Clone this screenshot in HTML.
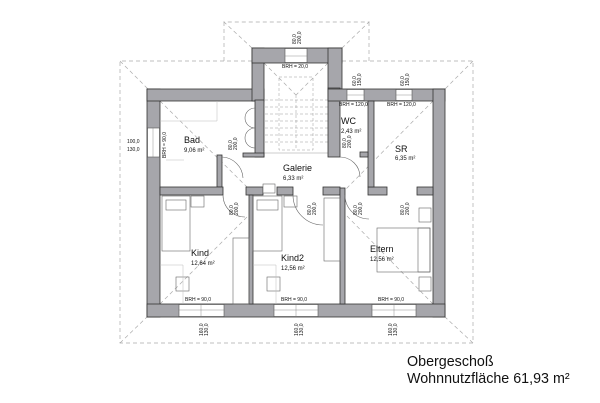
<!DOCTYPE html>
<html><head><meta charset="utf-8"><style>
html,body{margin:0;padding:0;background:#fff;}
svg{display:block;font-family:"Liberation Sans",sans-serif;}
</style></head><body>
<svg width="600" height="403" viewBox="0 0 600 403" xmlns="http://www.w3.org/2000/svg">
<g stroke="#aaa" stroke-width="0.7" stroke-dasharray="4,3" fill="none">
<polyline points="252,61 120,61 120,343 473,343 473,61 342,61"/>
<polyline points="252,48 224,22 369,22 342,48"/>
<line x1="224" y1="22" x2="224" y2="61"/><line x1="369" y1="22" x2="369" y2="61"/>
<line x1="120" y1="61" x2="148" y2="89"/><line x1="473" y1="61" x2="445" y2="89"/>
<line x1="120" y1="343" x2="147" y2="317"/><line x1="473" y1="343" x2="445" y2="317"/>
<line x1="160" y1="101" x2="250" y2="190"/><line x1="433" y1="101" x2="345" y2="190"/>
<line x1="160" y1="304" x2="250" y2="214"/><line x1="433" y1="304" x2="345" y2="214"/>
<line x1="264" y1="63" x2="296" y2="95"/><line x1="328" y1="63" x2="296" y2="95"/>
</g>
<g stroke="#999" stroke-width="0.5" fill="none">
<rect x="279" y="77" width="34" height="73" stroke-dasharray="3,2"/>
<line x1="296" y1="95" x2="296" y2="150" stroke-dasharray="3,2"/>
<g stroke-dasharray="3,2">
<line x1="265" y1="100" x2="328" y2="100"/><line x1="265" y1="107" x2="328" y2="107"/>
<line x1="265" y1="114" x2="328" y2="114"/><line x1="265" y1="121" x2="328" y2="121"/>
<line x1="265" y1="128" x2="328" y2="128"/><line x1="265" y1="135" x2="328" y2="135"/>
<line x1="265" y1="142" x2="328" y2="142"/>
</g>
<line x1="264" y1="153" x2="328" y2="153"/>
</g>
<g fill="#a6a6ab" stroke="#333" stroke-width="0.8">
<rect x="147" y="89" width="13" height="228"/>
<rect x="147" y="89" width="117" height="12"/>
<rect x="252" y="48" width="12" height="53"/>
<rect x="255" y="100" width="9" height="57"/>
<rect x="243" y="153" width="21" height="4"/>
<rect x="252" y="48" width="90" height="15"/>
<rect x="328" y="48" width="14" height="41"/>
<rect x="328" y="88" width="12" height="69"/>
<rect x="328" y="89" width="117" height="12"/>
<rect x="433" y="89" width="12" height="228"/>
<rect x="147" y="304" width="298" height="13"/>
<rect x="217" y="155" width="5" height="32"/>
<rect x="160" y="187" width="63" height="8"/>
<rect x="246" y="187" width="17" height="8"/>
<rect x="277" y="187" width="16" height="8"/>
<rect x="323" y="187" width="17" height="8"/>
<rect x="368" y="187" width="19" height="8"/>
<rect x="417" y="187" width="16" height="8"/>
<rect x="249" y="195" width="4" height="109"/>
<rect x="340" y="188" width="5" height="116"/>
<rect x="368" y="101" width="6" height="86"/>
<rect x="360" y="152" width="8" height="5"/>
</g>
<g fill="#fff" stroke="#555" stroke-width="0.6">
<rect x="147.5" y="128" width="12" height="29"/>
<rect x="285" y="48.5" width="22" height="14"/>
<rect x="347" y="89.5" width="17" height="11"/>
<rect x="396" y="89.5" width="16" height="11"/>
<rect x="179" y="304.5" width="45" height="12"/>
<rect x="274" y="304.5" width="44" height="12"/>
<rect x="372" y="304.5" width="44" height="12"/>
</g>
<g stroke="#777" stroke-width="0.4">
<line x1="153" y1="128" x2="153" y2="157"/><line x1="285" y1="56" x2="307" y2="56"/>
<line x1="347" y1="95" x2="364" y2="95"/><line x1="396" y1="95" x2="412" y2="95"/>
<line x1="179" y1="310" x2="224" y2="310"/><line x1="274" y1="310" x2="318" y2="310"/>
<line x1="372" y1="310" x2="416" y2="310"/>
<line x1="201" y1="304" x2="201" y2="317"/><line x1="296" y1="304" x2="296" y2="317"/><line x1="394" y1="304" x2="394" y2="317"/>
</g>
<g fill="none" stroke="#666" stroke-width="0.6">
<rect x="162" y="196" width="28" height="55"/><rect x="166" y="200" width="20" height="10"/>
<rect x="253" y="196" width="29" height="55"/><rect x="257" y="200" width="21" height="10"/>
<rect x="377" y="228" width="53" height="44"/><rect x="418" y="228" width="12" height="44"/>
<rect x="419" y="208" width="12" height="14"/><rect x="419" y="277" width="12" height="14"/>
<rect x="191" y="196" width="13" height="11"/><rect x="284" y="196" width="13" height="11"/>
<rect x="233" y="238" width="16" height="66"/>
<rect x="324" y="198" width="16" height="63"/>
<rect x="176" y="277" width="13" height="14"/><rect x="267" y="277" width="13" height="14"/>
<path d="M255,108 a10,10 0 0 0 0,20 M255,128 a10,10 0 0 0 0,20"/>
<rect x="263" y="184" width="12" height="9" fill="#fff"/>
<path d="M222,157 a22,22 0 0 1 21,21 M340,157 a20,20 0 0 1 20,20 M223,195 a22,22 0 0 0 22,22 M293,195 a30,30 0 0 0 30,30 M345,195 a24,24 0 0 0 24,24"/>
</g>
<g fill="none" stroke="#bbb" stroke-width="0.5">
<line x1="217" y1="101" x2="217" y2="121"/><line x1="160" y1="121" x2="217" y2="121"/>
<line x1="160" y1="265" x2="183" y2="265"/><line x1="183" y1="265" x2="183" y2="304"/>
<line x1="253" y1="265" x2="276" y2="265"/><line x1="276" y1="265" x2="276" y2="304"/>
<line x1="166" y1="160" x2="184" y2="160"/>
</g>
<g fill="#111">
<text x="184" y="143" font-size="9">Bad</text><text x="184" y="152" font-size="6">9,06 m²</text>
<text x="283" y="171" font-size="9">Galerie</text><text x="283" y="180" font-size="6">6,33 m²</text>
<text x="341" y="124" font-size="9">WC</text><text x="341" y="133" font-size="6">2,43 m²</text>
<text x="395" y="152" font-size="9">SR</text><text x="395" y="160" font-size="6">6,35 m²</text>
<text x="191" y="256" font-size="9">Kind</text><text x="191" y="265" font-size="6">12,64 m²</text>
<text x="281" y="261" font-size="9">Kind2</text><text x="281" y="270" font-size="6">12,56 m²</text>
<text x="370" y="252" font-size="9">Eltern</text><text x="370" y="261" font-size="6">12,56 m²</text>
<g font-size="5">
<text x="185" y="301">BRH = 90,0</text><text x="281" y="301">BRH = 90,0</text><text x="378" y="301">BRH = 90,0</text>
<text x="282" y="68">BRH = 20,0</text><text x="339" y="106">BRH = 120,0</text><text x="387" y="106">BRH = 120,0</text>
<text x="127" y="143">100,0</text><text x="127" y="151">130,0</text>
<text transform="translate(166,158) rotate(-90)">BRH = 90,0</text>
<text transform="translate(203,336) rotate(-90)">160,0</text><text transform="translate(208,336) rotate(-90)">130,0</text>
<text transform="translate(298,336) rotate(-90)">160,0</text><text transform="translate(303,336) rotate(-90)">130,0</text>
<text transform="translate(392,336) rotate(-90)">160,0</text><text transform="translate(397,336) rotate(-90)">130,0</text>
<text transform="translate(296,44) rotate(-90)">80,0</text><text transform="translate(301,44) rotate(-90)">200,0</text>
<text transform="translate(356,86) rotate(-90)">60,0</text><text transform="translate(361,86) rotate(-90)">150,0</text>
<text transform="translate(404,86) rotate(-90)">60,0</text><text transform="translate(409,86) rotate(-90)">150,0</text>
<text transform="translate(232,150) rotate(-90)">80,0</text><text transform="translate(237,150) rotate(-90)">200,0</text>
<text transform="translate(346,148) rotate(-90)">80,0</text><text transform="translate(351,148) rotate(-90)">200,0</text>
<text transform="translate(233,215) rotate(-90)">80,0</text><text transform="translate(238,215) rotate(-90)">200,0</text>
<text transform="translate(311,215) rotate(-90)">80,0</text><text transform="translate(316,215) rotate(-90)">200,0</text>
<text transform="translate(357,215) rotate(-90)">80,0</text><text transform="translate(362,215) rotate(-90)">200,0</text>
<text transform="translate(404,215) rotate(-90)">80,0</text><text transform="translate(409,215) rotate(-90)">200,0</text>
</g>
<text x="407" y="366" font-size="14.3">Obergeschoß</text>
<text x="407" y="383" font-size="14.3">Wohnnutzfläche 61,93 m²</text>
</g>
</svg>
</body></html>
